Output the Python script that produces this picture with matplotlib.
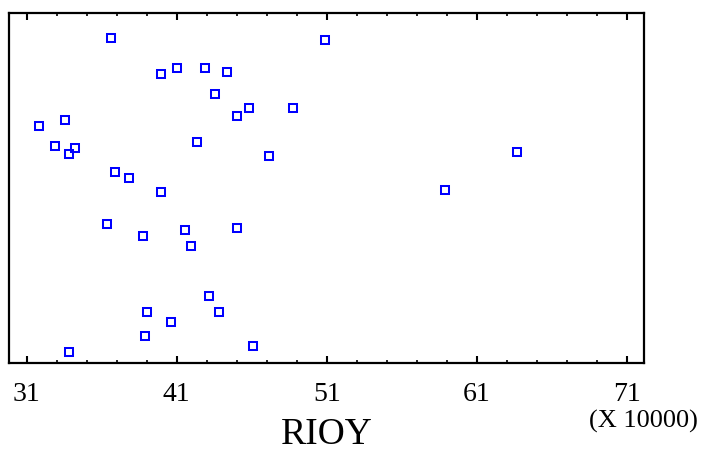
import numpy as np
import matplotlib
matplotlib.use('Agg')
import matplotlib.pyplot as plt
from matplotlib.ticker import MultipleLocator

# RIOY values (raw) and the vertical jitter used in the strip plot
rioy = [366000, 508900, 399300, 410000, 428700, 443300, 435300, 458000,
        487300, 450000, 318000, 335500, 328700, 342200, 338000, 423300,
        471300, 368700, 378000, 399300, 636700, 588900, 363300, 387300,
        415300, 450000, 419300, 431300, 390000, 438000, 406000, 388700,
        460700, 338000]
jitter = [0.928, 0.922, 0.826, 0.843, 0.843, 0.831, 0.769, 0.729,
          0.729, 0.706, 0.677, 0.694, 0.620, 0.614, 0.597, 0.631,
          0.591, 0.546, 0.529, 0.489, 0.602, 0.494, 0.396, 0.363,
          0.380, 0.386, 0.334, 0.191, 0.146, 0.146, 0.116, 0.077,
          0.049, 0.031]
xticks = [31, 41, 51, 61, 71]

plt.rcParams['font.family'] = ['Liberation Serif', 'DejaVu Serif']

fig = plt.figure(figsize=(7.04, 4.53), dpi=100)
ax = fig.add_axes([9 / 704, 90 / 453, 635 / 704, 350 / 453])

x = np.array(rioy) / 10000.0
ax.plot(x, jitter, linestyle='none', marker='s', markersize=6.0,
        markerfacecolor='none', markeredgecolor='#0000ff', markeredgewidth=1.45)

ax.set_xlim(29.82, 72.15)
ax.set_ylim(0, 1)
ax.set_xticks(xticks)
ax.xaxis.set_minor_locator(MultipleLocator(2, offset=1))
ax.set_yticks([])
for s in ax.spines.values():
    s.set_linewidth(1.6)
    s.set_color('black')
ax.tick_params(axis='x', which='major', direction='in', length=5, width=1.5,
               top=True, bottom=True, labelsize=20, pad=14)
ax.tick_params(axis='x', which='minor', direction='in', length=2, width=1.2,
               top=True, bottom=True)

fig.text(643 / 704, 1 - 428 / 453, '(X 10000)', ha='center', va='baseline', fontsize=19)
fig.text(327 / 704, 1 - 444 / 453, 'RIOY', ha='center', va='baseline', fontsize=27)

fig.savefig('out.png', dpi=100)
